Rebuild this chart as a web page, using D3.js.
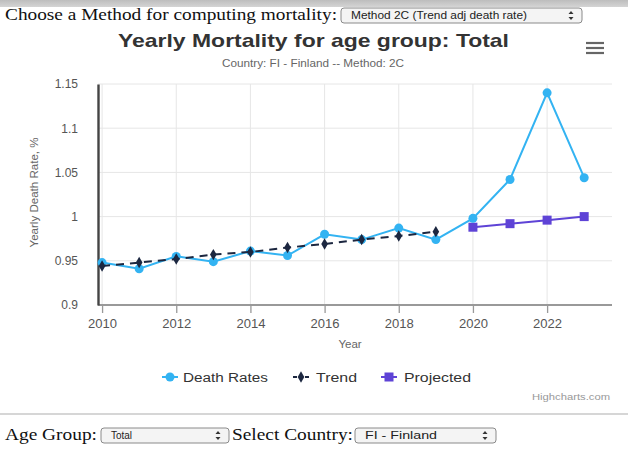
<!DOCTYPE html>
<html>
<head>
<meta charset="utf-8">
<script src="https://cdn.jsdelivr.net/npm/d3@7"></script>
<style>
  html, body { margin: 0; padding: 0; background: #fff; }
  svg { display: block; }
</style>
</head>
<body>
<svg id="page" width="628" height="450"></svg>
<script>
// Yearly mortality, Finland, all ages (%)
const years = [2010, 2011, 2012, 2013, 2014, 2015, 2016, 2017, 2018, 2019, 2020, 2021, 2022, 2023];
const deathRates = [0.948, 0.941, 0.955, 0.949, 0.961, 0.956, 0.980, 0.974, 0.987, 0.974, 0.998, 1.042, 1.140, 1.044];
const trendYears = [2010, 2011, 2012, 2013, 2014, 2015, 2016, 2017, 2018, 2019];
const trendValues = [0.944, 0.948, 0.952, 0.957, 0.960, 0.965, 0.969, 0.974, 0.978, 0.983];
const projYears = [2020, 2021, 2022, 2023];
const projValues = [0.988, 0.992, 0.996, 1.000];
const xTicks = [2010, 2012, 2014, 2016, 2018, 2020, 2022];
const yTicks = [0.9, 0.95, 1, 1.05, 1.1, 1.15];
const legendItems = ["Death Rates", "Trend", "Projected"];

const colDeath = "#33b3f2";
const colTrend = "#1c2740";
const colProj = "#5e43d6";

const svg = d3.select("#page");
const sans = "Helvetica, Arial, 'Liberation Sans', sans-serif";
const serif = "'Times New Roman', 'Liberation Serif', serif";

// helper: text stretched to a set width
function wideText(parent, x, yPos, str, size, len, opts = {}) {
  return parent.append("text").attr("x", x).attr("y", yPos)
    .attr("font-family", opts.family || sans).attr("font-size", size)
    .attr("font-weight", opts.weight || "normal").attr("fill", opts.fill || "#333")
    .attr("text-anchor", opts.anchor || "start")
    .attr("textLength", len).attr("lengthAdjust", "spacingAndGlyphs").text(str);
}

// top browser band
const grad = svg.append("defs").append("linearGradient").attr("id", "band")
  .attr("x1", 0).attr("y1", 0).attr("x2", 0).attr("y2", 1);
grad.append("stop").attr("offset", 0).attr("stop-color", "#bdbdbd");
grad.append("stop").attr("offset", 1).attr("stop-color", "#d4d4d4");
svg.append("rect").attr("x", 0).attr("y", 0).attr("width", 628).attr("height", 7).attr("fill", "url(#band)");

// select box helper
function selectBox(x, y, w, h, label, labelLen) {
  const g = svg.append("g");
  g.append("rect").attr("x", x).attr("y", y).attr("width", w).attr("height", h)
    .attr("rx", 3).attr("fill", "#f4f4f4").attr("stroke", "#8a8a8a").attr("stroke-width", 1);
  wideText(g, x + 10, y + h / 2 + 3.5, label, 10, labelLen, { fill: "#222" });
  const ax = x + w - 11;
  g.append("path").attr("d", `M${ax - 2.5},${y + h / 2 - 1.5} L${ax},${y + h / 2 - 4.5} L${ax + 2.5},${y + h / 2 - 1.5} Z`).attr("fill", "#333");
  g.append("path").attr("d", `M${ax - 2.5},${y + h / 2 + 1.5} L${ax},${y + h / 2 + 4.5} L${ax + 2.5},${y + h / 2 + 1.5} Z`).attr("fill", "#333");
}

wideText(svg, 5, 20, "Choose a Method for computing mortality:", 16, 332, { family: serif, fill: "#111" });
selectBox(341, 8, 241, 15, "Method 2C (Trend adj death rate)", 176);

// chart titles
wideText(svg, 118, 47, "Yearly Mortality for age group: Total", 19, 391, { weight: "bold", fill: "#333" });
wideText(svg, 313, 67, "Country: FI - Finland -- Method: 2C", 11.5, 182, { anchor: "middle", fill: "#666" });

// context menu icon
[43, 48, 53].forEach(yy => {
  svg.append("line").attr("x1", 586).attr("x2", 604).attr("y1", yy).attr("y2", yy)
    .attr("stroke", "#666").attr("stroke-width", 2.2);
});

// plot area and scales
const plotL = 98, plotR = 612, plotT = 84, plotB = 305;
const x = d3.scaleLinear().domain([2009.89, 2023.75]).range([plotL, plotR]);
const y = d3.scaleLinear().domain([0.9, 1.15]).range([plotB, plotT]);

// grid
const grid = svg.append("g");
grid.selectAll("line.h").data(yTicks.slice(1)).join("line")
  .attr("x1", plotL).attr("x2", plotR).attr("y1", d => y(d)).attr("y2", d => y(d))
  .attr("stroke", "#e6e6e6").attr("stroke-width", 1);
grid.selectAll("line.v").data(xTicks).join("line")
  .attr("x1", d => x(d)).attr("x2", d => x(d)).attr("y1", plotT).attr("y2", plotB)
  .attr("stroke", "#e6e6e6").attr("stroke-width", 1);

// x axis
const xAxis = svg.append("g").attr("transform", `translate(0,${plotB})`)
  .call(d3.axisBottom(x).tickValues(xTicks).tickFormat(d3.format("d")).tickSize(8).tickPadding(6));
xAxis.select(".domain").attr("stroke", "#999").attr("stroke-width", 2).attr("d", `M${plotL},0H${plotR}`);
xAxis.selectAll(".tick line").attr("stroke", "#999").attr("stroke-width", 1.3);
xAxis.selectAll(".tick text").attr("font-family", sans).attr("font-size", 12).attr("fill", "#555")
  .attr("textLength", 29).attr("lengthAdjust", "spacingAndGlyphs");

svg.append("text").attr("x", (plotL + plotR) / 2 - 5).attr("y", 348).attr("text-anchor", "middle")
  .attr("font-family", sans).attr("font-size", 11.5).attr("fill", "#666").text("Year");

// y axis
const yAxis = svg.append("g").attr("transform", `translate(${plotL},0)`)
  .call(d3.axisLeft(y).tickValues(yTicks).tickFormat(d => String(+d.toFixed(2))).tickSize(0).tickPadding(20));
yAxis.select(".domain").attr("stroke", "#444").attr("stroke-width", 2.4);
yAxis.selectAll(".tick text").attr("font-family", sans).attr("font-size", 12).attr("fill", "#555");

svg.append("text").attr("transform", `translate(38,${(plotT + plotB) / 2 - 2}) rotate(-90)`)
  .attr("text-anchor", "middle").attr("font-family", sans).attr("font-size", 11.5).attr("fill", "#666")
  .attr("textLength", 110).attr("lengthAdjust", "spacingAndGlyphs")
  .text("Yearly Death Rate, %");

// series
const deathData = years.map((yr, i) => ({ yr, v: deathRates[i] }));
const trendData = trendYears.map((yr, i) => ({ yr, v: trendValues[i] }));
const projData = projYears.map((yr, i) => ({ yr, v: projValues[i] }));
const line = d3.line().x(d => x(d.yr)).y(d => y(d.v));

svg.append("path").datum(projData).attr("d", line).attr("fill", "none")
  .attr("stroke", colProj).attr("stroke-width", 2);
svg.selectAll("rect.proj").data(projData).join("rect")
  .attr("x", d => x(d.yr) - 4.5).attr("y", d => y(d.v) - 4.5).attr("width", 9).attr("height", 9)
  .attr("fill", colProj);

svg.append("path").datum(deathData).attr("d", line).attr("fill", "none")
  .attr("stroke", colDeath).attr("stroke-width", 2);
svg.selectAll("circle.death").data(deathData).join("circle")
  .attr("cx", d => x(d.yr)).attr("cy", d => y(d.v)).attr("r", 4.5).attr("fill", colDeath);

svg.append("path").datum(trendData).attr("d", line).attr("fill", "none")
  .attr("stroke", colTrend).attr("stroke-width", 2).attr("stroke-dasharray", "8,6");
const diamond = d3.symbol().type(d3.symbolDiamond).size(38);
svg.selectAll("path.trend").data(trendData).join("path")
  .attr("transform", d => `translate(${x(d.yr)},${y(d.v)})`).attr("d", diamond).attr("fill", colTrend);

// legend
const legend = svg.append("g");
const lgY = 377;
const lg = [
  { sx: 170, tx: 183, len: 85, col: colDeath, kind: "circle", dash: null },
  { sx: 301, tx: 316, len: 41, col: colTrend, kind: "diamond", dash: "4,2" },
  { sx: 389, tx: 404, len: 67, col: colProj, kind: "square", dash: null }
];
legendItems.forEach((name, i) => {
  const d = lg[i];
  legend.append("line").attr("x1", d.sx - 8).attr("x2", d.sx + 8).attr("y1", lgY).attr("y2", lgY)
    .attr("stroke", d.col).attr("stroke-width", 2).attr("stroke-dasharray", d.dash);
  if (d.kind === "circle") legend.append("circle").attr("cx", d.sx).attr("cy", lgY).attr("r", 4.5).attr("fill", d.col);
  if (d.kind === "diamond") legend.append("path").attr("transform", `translate(${d.sx},${lgY})`).attr("d", diamond).attr("fill", d.col);
  if (d.kind === "square") legend.append("rect").attr("x", d.sx - 4.5).attr("y", lgY - 4.5).attr("width", 9).attr("height", 9).attr("fill", d.col);
  wideText(legend, d.tx, lgY + 4.5, name, 12.5, d.len, { fill: "#333" });
});

wideText(svg, 610, 400, "Highcharts.com", 9.5, 78, { anchor: "end", fill: "#999" });

// divider and lower controls
svg.append("line").attr("x1", 0).attr("x2", 628).attr("y1", 414).attr("y2", 414)
  .attr("stroke", "#c8c8c8").attr("stroke-width", 1.5);
wideText(svg, 5, 440, "Age Group:", 16, 92, { family: serif, fill: "#111" });
selectBox(101, 428, 128, 15, "Total", 21);
wideText(svg, 232, 440, "Select Country:", 16, 121, { family: serif, fill: "#111" });
selectBox(355, 428, 141, 15, "FI - Finland", 72);
</script>
</body>
</html>
